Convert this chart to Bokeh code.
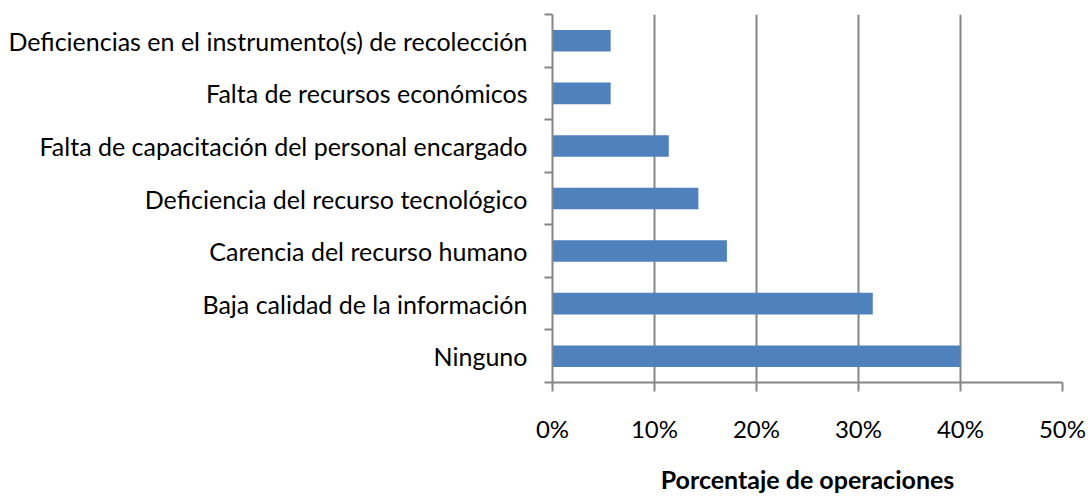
from bokeh.plotting import figure
from bokeh.models import Range1d, FixedTicker, PrintfTickFormatter
from bokeh.embed import file_html
from bokeh.resources import INLINE

# bottom to top
categories = [
    "Ninguno",
    "Baja calidad de la información",
    "Carencia del recurso humano",
    "Deficiencia del recurso tecnológico",
    "Falta de capacitación del personal encargado",
    "Falta de recursos económicos",
    "Deficiencias en el instrumento(s) de recolección",
]
values = [40.0, 31.4, 17.1, 14.3, 11.4, 5.7, 5.7]
x_ticks = [0, 10, 20, 30, 40, 50]
x_title = "Porcentaje de operaciones"

FONT = "Lato"
GRAY = "#868686"

n = len(categories)
ypos = [i + 0.5 for i in range(n)]

p = figure(width=1088, height=496, output_backend="svg", toolbar_location=None,
           x_range=Range1d(0, 50), y_range=Range1d(0, n),
           min_border_left=552, min_border_right=26, min_border_top=14, min_border_bottom=109)
p.outline_line_color = None
p.background_fill_color = "white"

p.hbar(y=ypos, right=values, left=0, height=0.41, color="#4F81BD", line_color=None)

# x axis
xa = p.xaxis[0]
xa.ticker = FixedTicker(ticks=x_ticks)
xa.formatter = PrintfTickFormatter(format="%d%%")
xa.axis_line_color = GRAY
xa.axis_line_width = 2
xa.major_tick_line_color = GRAY
xa.major_tick_line_width = 2
xa.major_tick_in = 0
xa.major_tick_out = 9
xa.minor_tick_line_color = None
xa.major_label_standoff = 22
xa.major_label_text_font = FONT
xa.major_label_text_font_size = "24px"
xa.major_label_text_color = "#000000"
xa.axis_label = x_title
xa.axis_label_text_font = FONT
xa.axis_label_text_font_style = "bold"
xa.axis_label_text_font_size = "25px"
xa.axis_label_text_color = "#000000"
xa.axis_label_standoff = 18

p.xgrid.ticker = FixedTicker(ticks=x_ticks)
p.xgrid.grid_line_color = GRAY
p.xgrid.grid_line_width = 2
p.ygrid.grid_line_color = None

# y axis
ya = p.yaxis[0]
ya.ticker = FixedTicker(ticks=ypos, minor_ticks=list(range(n + 1)))
ya.major_label_overrides = {y: c for y, c in zip(ypos, categories)}
ya.axis_line_color = GRAY
ya.axis_line_width = 2
ya.major_tick_line_color = None
ya.major_tick_in = 0
ya.major_tick_out = 0
ya.minor_tick_line_color = GRAY
ya.minor_tick_line_width = 2
ya.minor_tick_in = 0
ya.minor_tick_out = 8
ya.major_label_standoff = 17
ya.major_label_text_font = FONT
ya.major_label_text_font_size = "25px"
ya.major_label_text_color = "#000000"

open("out.html", "w").write(file_html(p, INLINE))
